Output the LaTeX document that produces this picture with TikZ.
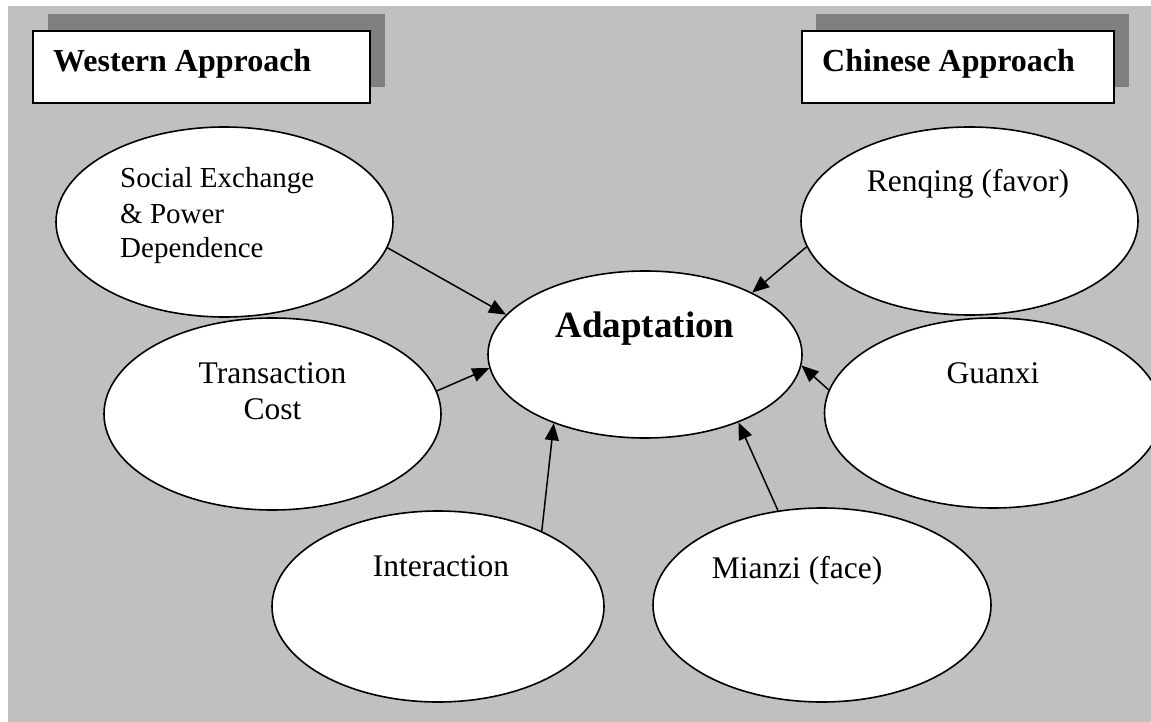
\documentclass[tikz,border=0pt]{standalone}
\usepackage{fontspec}
\setmainfont{Liberation Serif}
\usetikzlibrary{arrows.meta,shapes.geometric}
\definecolor{bggray}{RGB}{192,192,192}
\definecolor{shadowgray}{RGB}{128,128,128}
\begin{document}
\begin{tikzpicture}[x=1pt,y=-1pt,
  bubble/.style={ellipse, draw, line width=1.6pt, fill=white, inner sep=0pt},
  lbl/.style={anchor=base, inner sep=0pt, font=\fontsize{31.5}{36}\selectfont},
  smalllbl/.style={anchor=base west, inner sep=0pt, font=\fontsize{29}{35}\selectfont},
  headlbl/.style={anchor=base west, inner sep=0pt, font=\fontsize{32}{38}\selectfont\bfseries},
  conn/.style={line width=1.5pt, -{Triangle[length=17pt,width=14pt]}},
  headbox/.style={draw, line width=1.8pt, fill=white, anchor=north west, inner sep=0pt},
  shadowbox/.style={fill=shadowgray, anchor=north west, inner sep=0pt},
  ]
\useasboundingbox (0,0) rectangle (1151,722);
\fill[bggray] (8,6) rectangle (1151,722);

% header boxes
\node[shadowbox, minimum width=337pt, minimum height=73pt] (wshadow) at (48,14) {};
\node[headbox, minimum width=337pt, minimum height=72pt] (wbox) at (32,30) {};
\node[headlbl] (wtext) at (53,72) {Western Approach};
\node[shadowbox, minimum width=313pt, minimum height=73pt] (cshadow) at (816,14) {};
\node[headbox, minimum width=312pt, minimum height=72pt] (cbox) at (801,30) {};
\node[headlbl] (ctext) at (822,72) {Chinese Approach};

% ellipses
\node[bubble, minimum width=337pt, minimum height=190pt] (se) at (224.5,222) {};
\node[bubble, minimum width=337pt, minimum height=192pt] (tc) at (272.5,414) {};
\node[bubble, minimum width=332pt, minimum height=191pt] (ia) at (438,606.5) {};
\node[bubble, minimum width=314pt, minimum height=167pt] (ad) at (645,354.5) {};
\node[bubble, minimum width=337pt, minimum height=188pt] (rq) at (969.5,221) {};
\node[bubble, minimum width=337pt, minimum height=190pt] (gx) at (993,413) {};
\node[bubble, minimum width=338pt, minimum height=194pt] (mz) at (822,605) {};

% texts
\node[smalllbl] (se1) at (120,188) {Social Exchange};
\node[smalllbl] (se2) at (120,223) {\& Power};
\node[smalllbl] (se3) at (120,258) {Dependence};
\node[lbl] (tc1) at (272.5,383) {Transaction};
\node[lbl] (tc2) at (272.5,419) {Cost};
\node[lbl] (ia1) at (441,576) {Interaction};
\node[lbl, font=\fontsize{37}{42}\selectfont\bfseries] (ad1) at (645,337) {Adaptation};
\node[lbl] (rq1) at (968,192) {Renqing (favor)};
\node[lbl] (gx1) at (993,383) {Guanxi};
\node[lbl] (mz1) at (797,578) {Mianzi (face)};

% connectors
\draw[conn] (se.-9) -- (ad.164.5);
\draw[conn] (tc.8) -- (ad.-175.5);
\draw[conn] (ia.36) -- (ad.-143);
\draw[conn] (mz.115) -- (ad.-36);
\draw[conn] (gx.172) -- (ad.-4.6);
\draw[conn] (rq.189) -- (ad.30);
\end{tikzpicture}
\end{document}
